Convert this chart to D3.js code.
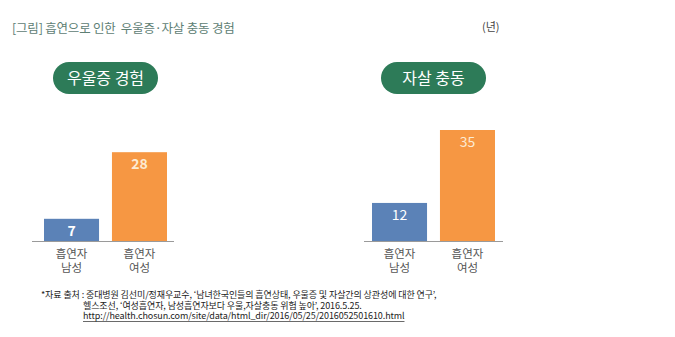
<!DOCTYPE html>
<html>
<head>
<meta charset="utf-8">
<script src="https://cdn.jsdelivr.net/npm/d3@7"></script>
<style>
  html, body { margin: 0; padding: 0; background: #fff; }
  svg { display: block; font-family: "Noto Sans CJK KR", "Noto Sans", sans-serif; }
  text { white-space: pre; }
</style>
</head>
<body>
<svg id="chart" width="675" height="337"></svg>
<script>
// Panels and their values (%)
const panels = ["우울증 경험", "자살 충동"];
const groups = [["흡연자", "남성"], ["흡연자", "여성"]];
const depressionValues = [7, 28];
const suicideValues = [12, 35];
const seriesValues = [depressionValues, suicideValues];
const barColors = ["#5b82b7", "#f69743"];
const labelColors = ["#ffffff", "#fdebd3"];
const labelWeights = [700, 400];

const titleText = "[그림] 흡연으로 인한  우울증·자살 충동 경험";
const unitText = "(년)";
const sourceLines = [
  "*자료 출처 : 중대병원 김선미/정재우교수, ‘남녀한국인들의 흡연상태, 우울증 및 자살간의 상관성에 대한 연구’,",
  "헬스조선, ‘여성흡연자, 남성흡연자보다 우울,자살충동 위험 높아’, 2016.5.25.",
  "http://health.chosun.com/site/data/html_dir/2016/05/25/2016052501610.html"
];

const svg = d3.select("#chart");

// Title and unit
svg.append("text").attr("x", 12).attr("y", 33)
  .attr("font-size", 12.5).attr("letter-spacing", -0.2).attr("fill", "#5e8074").text(titleText);
svg.append("text").attr("x", 482).attr("y", 31)
  .attr("font-size", 11).attr("fill", "#444").text(unitText);

// Shared value scale
const baseline = 241;
const y = d3.scaleLinear().domain([0, 35]).range([baseline, 130]);

// Panel layout: axis extent and bar band extent
const axisExtents = [[32, 174], [364, 503]];
const bandExtents = [[44, 167], [372, 495]];

panels.forEach((name, i) => {
  const [x0, x1] = axisExtents[i];
  const g = svg.append("g");
  const x = d3.scaleBand().domain(d3.range(groups.length))
    .range(bandExtents[i]).paddingInner(0.19).paddingOuter(0);

  // Pill heading
  const cx = (x.range()[0] + x.range()[1]) / 2;
  g.append("rect").attr("x", cx - 52.5).attr("y", 62).attr("width", 105).attr("height", 32)
    .attr("rx", 16).attr("fill", "#2d7b58");
  g.append("text").attr("x", cx).attr("y", 84).attr("text-anchor", "middle")
    .attr("font-size", 16).attr("fill", "#fff").text(name);

  const vals = seriesValues[i];
  g.selectAll("rect.bar").data(vals).join("rect").attr("class", "bar")
    .attr("x", (d, j) => x(j)).attr("width", x.bandwidth())
    .attr("y", d => y(d)).attr("height", d => baseline - y(d))
    .attr("fill", (d, j) => barColors[j]);

  g.selectAll("text.val").data(vals).join("text").attr("class", "val")
    .attr("x", (d, j) => x(j) + x.bandwidth() / 2)
    .attr("y", d => y(d) + 17)
    .attr("text-anchor", "middle").attr("font-size", 14).attr("font-weight", labelWeights[i])
    .attr("fill", (d, j) => labelColors[j]).text(d => d);

  // Baseline axis
  g.append("line").attr("x1", x0).attr("x2", x1).attr("y1", baseline + 0.5).attr("y2", baseline + 0.5)
    .attr("stroke", "#9a9a9a").attr("stroke-width", 1);

  // Category labels, two lines each
  groups.forEach((lines, j) => {
    const cxj = x(j) + x.bandwidth() / 2;
    const t = g.append("text").attr("text-anchor", "middle")
      .attr("font-size", 11.5).attr("fill", "#555");
    lines.forEach((s, k) => {
      t.append("tspan").attr("x", cxj).attr("y", 258 + k * 13.5).text(s);
    });
  });
});

// Source note
const noteSize = 9;
const note = svg.append("text").attr("font-size", noteSize)
  .attr("fill", "#222").attr("letter-spacing", -0.1);
const noteX = [41, 83, 83];
const noteY = [298, 308.5, 319];
sourceLines.forEach((s, k) => {
  note.append("tspan").attr("x", noteX[k]).attr("y", noteY[k]).text(s);
});
const urlSpan = note.selectAll("tspan").filter((d, k) => k === 2).node();
const ub = urlSpan.getBBox ? urlSpan.getBBox() : null;
const urlLen = urlSpan.getComputedTextLength();
svg.append("line").attr("x1", noteX[2]).attr("x2", noteX[2] + urlLen)
  .attr("y1", 321.5).attr("y2", 321.5).attr("stroke", "#444").attr("stroke-width", 0.8);
</script>
</body>
</html>
